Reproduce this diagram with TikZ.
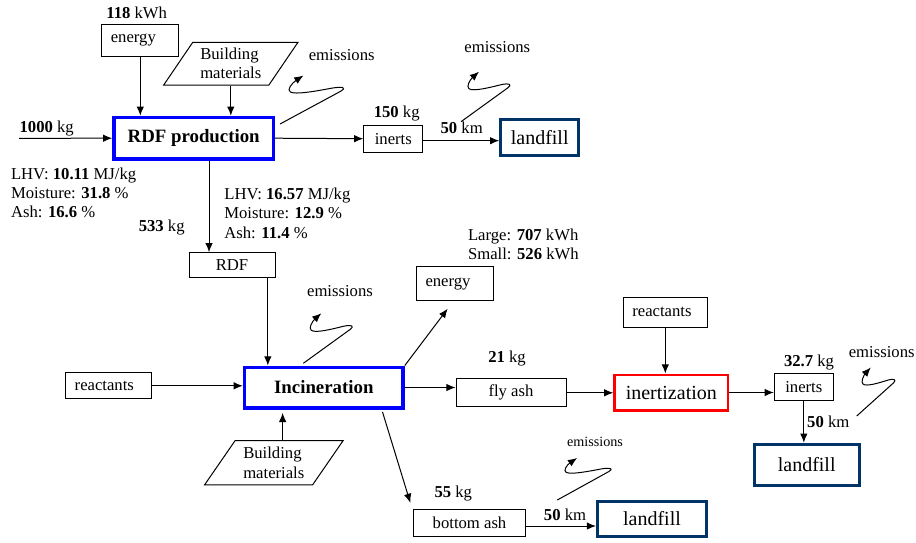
\documentclass[tikz,border=0pt]{standalone}
\usepackage{fontspec}
\setmainfont{Liberation Serif}
\usetikzlibrary{shapes.geometric,arrows.meta}
\definecolor{navy}{RGB}{0,51,102}

\tikzset{
  box/.style={draw, line width=0.6pt, inner sep=0pt, font=\fontsize{10}{12}\selectfont},
  tbox/.style={box, inner xsep=5.4pt, text width=#1, align=left},
  process/.style={draw=blue, line width=2pt, inner sep=0pt, font=\fontsize{11.3}{13}\selectfont\bfseries},
  dump/.style={draw=navy, line width=1.8pt, inner sep=0pt, font=\fontsize{12}{14}\selectfont},
  treat/.style={draw=red, line width=1.5pt, inner sep=0pt, font=\fontsize{12}{14}\selectfont},
  supply/.style={draw, line width=0.6pt, trapezium, trapezium stretches=true, inner sep=0pt, align=left, font=\fontsize{10}{11.5}\selectfont},
  lbl/.style={inner sep=0pt, font=\fontsize{10}{11.6}\selectfont},
  arr/.style={-{Latex[length=5.5pt,width=4.5pt]}, line width=0.6pt},
  pics/fume/.style={code={
    \draw[arr] (0,0) -- (47,-34) .. controls (51,-37) and (49,-39) .. (40,-37) .. controls (28,-34) and (12,-30) .. (8,-33) .. controls (5,-35) and (9,-42) .. (18,-50);
  }}
}

\begin{document}
\begin{tikzpicture}[x=0.6pt,y=-0.6pt]
        \useasboundingbox (0,0) rectangle (916,542);

        \node[tbox=35.4pt, minimum height=19.2pt] (energy1) at (140.3,40) {energy};
        \node[supply, trapezium left angle=53, trapezium right angle=127, minimum width=81pt, minimum height=25.6pt] (bm1) at (230.8,63.7) {Building\\materials};
        \node[process, minimum width=95.8pt, minimum height=25pt] (rdfprod) at (193.7,138.2) {RDF production};
        \node[box, minimum width=35.4pt, minimum height=16.2pt] (inerts1) at (393.3,138.7) {inerts};
        \node[dump, minimum width=46.8pt, minimum height=21.6pt] (landfill1) at (539.7,137.8) {landfill};
        \node[box, minimum width=51.6pt, minimum height=15pt] (rdf) at (232,265.2) {RDF};
        \node[process, minimum width=95.2pt, minimum height=24.4pt] (incin) at (323.8,387.5) {Incineration};
        \node[tbox=40.8pt, minimum height=15.6pt] (react1) at (108.7,385.8) {reactants};
        \node[supply, trapezium left angle=52, trapezium right angle=128, minimum width=83.4pt, minimum height=26.6pt] (bm2) at (273.8,462.8) {Building\\materials};
        \node[tbox=35.4pt, minimum height=20.4pt] (energy2) at (455,283.7) {energy};
        \node[box, minimum width=66pt, minimum height=16.8pt] (flyash) at (511,392.8) {fly ash};
        \node[treat, minimum width=68.1pt, minimum height=21.3pt] (inertz) at (671.3,392.5) {inertization};
        \node[tbox=39.6pt, minimum height=18pt] (react2) at (665.3,312.3) {reactants};
        \node[box, minimum width=35.4pt, minimum height=16.2pt] (inerts2) at (803.8,387) {inerts};
        \node[dump, minimum width=63pt, minimum height=24.6pt] (landfill3) at (806.7,464.7) {landfill};
        \node[box, minimum width=67.2pt, minimum height=16.2pt] (bash) at (469.5,523) {bottom ash};
        \node[dump, minimum width=65.4pt, minimum height=21pt] (landfill2) at (652,519) {landfill};

        \node[lbl] (kwh1) at (136.7,13.3) {\textbf{118} kWh};
        \node[lbl] (feedmass) at (46.7,128.3) {\textbf{1000} kg};
        \node[lbl, anchor=west, align=left] (rawprop) at (10.7,192.7) {LHV: \textbf{10.11} MJ/kg\\Moisture: \textbf{31.8} \%\\Ash: \textbf{16.6} \%};
        \node[lbl] (rdfmass) at (161.7,227.7) {\textbf{533} kg};
        \node[lbl, anchor=west, align=left] (rdfprop) at (224,213.3) {LHV: \textbf{16.57} MJ/kg\\Moisture: \textbf{12.9} \%\\Ash: \textbf{11.4} \%};
        \node[lbl] (inmass1) at (396.7,113.3) {\textbf{150} kg};
        \node[lbl] (dist1) at (461.7,128) {\textbf{50} km};
        \node[lbl] (em1) at (341.7,55) {emissions};
        \node[lbl] (em3) at (497.3,46.7) {emissions};
        \node[lbl] (em2) at (340,290.7) {emissions};
        \node[lbl, anchor=west, align=left] (power) at (467.7,244.2) {Large: \textbf{707} kWh\\Small: \textbf{526} kWh};
        \node[lbl] (flymass) at (507,359) {\textbf{21} kg};
        \node[lbl] (inmass2) at (809,363) {\textbf{32.7} kg};
        \node[lbl] (dist3) at (828.3,421.7) {\textbf{50} km};
        \node[lbl] (em5) at (881.7,351.7) {emissions};
        \node[lbl] (botmass) at (453.3,494) {\textbf{55} kg};
        \node[lbl] (dist2) at (565,515) {\textbf{50} km};
        \node[lbl, font=\fontsize{8.5}{10}\selectfont] (em4) at (595,441.7) {emissions};

        \coordinate (feed) at (19,138.3);
        \coordinate (sq1) at (280,124);
        \coordinate (sq2) at (303.3,363.3);
        \coordinate (sq3) at (461,121.7);
        \coordinate (sq4) at (557.3,500);
        \coordinate (sq5) at (856.7,416);

        \draw[arr] (feed) -- (rdfprod.west);
        \draw[arr] (energy1.south) -- (energy1.south |- rdfprod.north);
        \draw[arr] (bm1.center |- bm1.south) -- (bm1.center |- rdfprod.north);
        \draw[arr] (rdfprod.east) -- (inerts1.west);
        \draw[arr] ([yshift=-1.2pt]inerts1.east) -- ([yshift=-1.2pt]inerts1.east -| landfill1.west);
        \draw[arr] ([xshift=9.2pt]rdfprod.south) -- ([xshift=9.2pt]rdfprod.south |- rdf.north);
        \draw[arr] ([xshift=-4.6pt]rdf.south east) -- ([xshift=-4.6pt]rdf.south east |- incin.north);
        \draw[arr] (react1.east) -- (react1.east -| incin.west);
        \draw[arr, shorten >=2pt] ([xshift=5.3pt]bm2.center |- bm2.north) -- ([xshift=5.3pt]bm2.center |- incin.south);
        \draw[arr] (incin.north east) -- ([xshift=-4.4pt,yshift=-4.5pt]energy2.south);
        \draw[arr] (incin.east) -- (incin.east -| flyash.west);
        \draw[arr] ([xshift=-13.4pt,yshift=-1.4pt]incin.south east) -- ([xshift=-1.6pt,yshift=3.7pt]bash.north west);
        \draw[arr] (flyash.east) -- (flyash.east -| inertz.west);
        \draw[arr] (react2.south) -- (react2.south |- inertz.north);
        \draw[arr] (inertz.east) -- (inertz.east -| inerts2.west);
        \draw[arr] (inerts2.south) -- (inerts2.south |- landfill3.north);
        \draw[arr] ([yshift=-1.8pt]bash.east) -- ([yshift=-1.8pt]bash.east -| landfill2.west);

        \pic[xscale=1.3, yscale=0.97] at (sq1) {fume};
        \pic at (sq2) {fume};
        \pic at (sq3) {fume};
        \pic[xscale=1.1, yscale=0.84] at (sq4) {fume};
        \pic[xscale=0.78, yscale=0.97] at (sq5) {fume};
    \end{tikzpicture}
\end{document}
